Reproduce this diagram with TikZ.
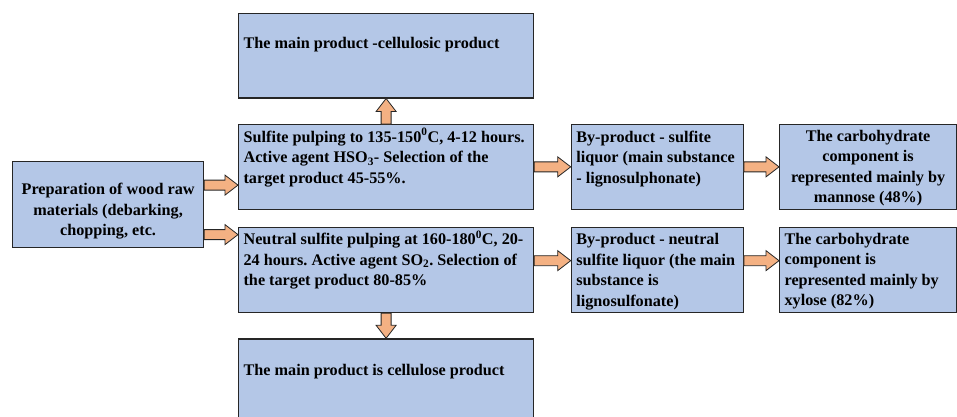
\documentclass[tikz,border=0pt]{standalone}
\usepackage{fontspec}
\setmainfont{Liberation Serif}
\usetikzlibrary{calc,positioning}
\definecolor{BoxClr}{RGB}{180,199,231}
\definecolor{ArrowClr}{RGB}{244,177,131}
\definecolor{LineClr}{RGB}{38,38,38}

\tikzset{
  box/.style={draw=LineClr,fill=BoxClr,line width=1.2pt,inner xsep=5pt,inner ysep=0pt,
    anchor=north west,align=flush left,font=\bfseries\fontsize{16.2}{20.5}\selectfont\frenchspacing},
  wide/.style={text width=285pt},
  mid/.style={text width=162pt},
  narrow/.style={text width=167pt},
  arrowfill/.style={draw=LineClr,fill=ArrowClr,line width=0.8pt,line join=miter}
}

% block arrow from #1 to #2
\newcommand{\fatarrow}[2]{%
  \coordinate (fa0) at (#1);
  \coordinate (fa1) at (#2);
  \coordinate (fab) at ($(fa1)!13pt!(fa0)$);
  \draw[arrowfill] ($(fa0)!5pt!90:(fa1)$) -- ($(fab)!5pt!90:(fa1)$) -- ($(fab)!10pt!90:(fa1)$)
    -- (fa1) -- ($(fab)!10pt!-90:(fa1)$) -- ($(fab)!5pt!-90:(fa1)$) -- ($(fa0)!5pt!-90:(fa1)$) -- cycle;}

\begin{document}
\begin{tikzpicture}[x=1pt,y=-1pt]
\useasboundingbox (0,0) rectangle (957,416);
\clip (0,0) rectangle (957,416);

% Boxes
\node[box,wide,text height=35pt,text depth=49.3pt] (mainA) at (238,13)
  {The main product -cellulosic product};
\node[box,wide,text height=17.5pt,text depth=67pt] (sulf) at (238,124)
  {Sulfite pulping to 135-150\textsuperscript{0}C, 4-12 hours.\\
   Active agent HSO\textsubscript{3}- Selection of the\\
   target product 45-55\%.};
\node[box,wide,text height=17.5pt,text depth=67.8pt] (neut) at (238,226.7)
  {Neutral sulfite pulping at 160-180\textsuperscript{0}C, 20-\\
   24 hours. Active agent SO\textsubscript{2}. Selection of\\
   the target product 80-85\%};
\node[box,wide,text height=36.4pt,text depth=47.6pt] (mainB) at (238,338.3)
  {The main product is cellulose product};
\node[box,text width=181pt,align=flush center,text height=33.3pt,text depth=52.7pt] (prep) at (12,160.7)
  {Preparation of wood raw\\ materials (debarking,\\ chopping, etc.};
\node[box,mid,text height=17.5pt,text depth=67pt] (byA) at (570.7,124)
  {By-product - sulfite\\ liquor (main substance\\ - lignosulphonate)};
\node[box,mid,text height=17.5pt,text depth=67.8pt] (byB) at (570.7,226.7)
  {By-product - neutral\\ sulfite liquor (the main\\ substance is\\ lignosulfonate)};
\node[box,narrow,align=flush center,text height=16.5pt,text depth=68pt] (carbA) at (779,124)
  {The carbohydrate\\ component is\\ represented mainly by\\ mannose (48\%)};
\node[box,narrow,text height=17pt,text depth=68.3pt] (carbB) at (779,226.7)
  {The carbohydrate\\ component is\\ represented mainly by\\ xylose (82\%)};

% Arrows
\coordinate (pa) at ($(prep.east)+(0,-19.2)$);
\coordinate (pb) at ($(prep.east)+(0,30.3)$);
\coordinate (nc) at ($(neut.east)+(0,-9.3)$);
\coordinate (bc) at (byB.east |- nc);
\fatarrow{pa}{sulf.west |- pa}
\fatarrow{pb}{neut.west |- pb}
\fatarrow{sulf.east}{byA.west}
\fatarrow{byA.east}{carbA.west}
\fatarrow{nc}{byB.west |- nc}
\fatarrow{bc}{carbB.west |- nc}
\fatarrow{sulf.north}{mainA.south}
\fatarrow{neut.south}{mainB.north}

\end{tikzpicture}
\end{document}
